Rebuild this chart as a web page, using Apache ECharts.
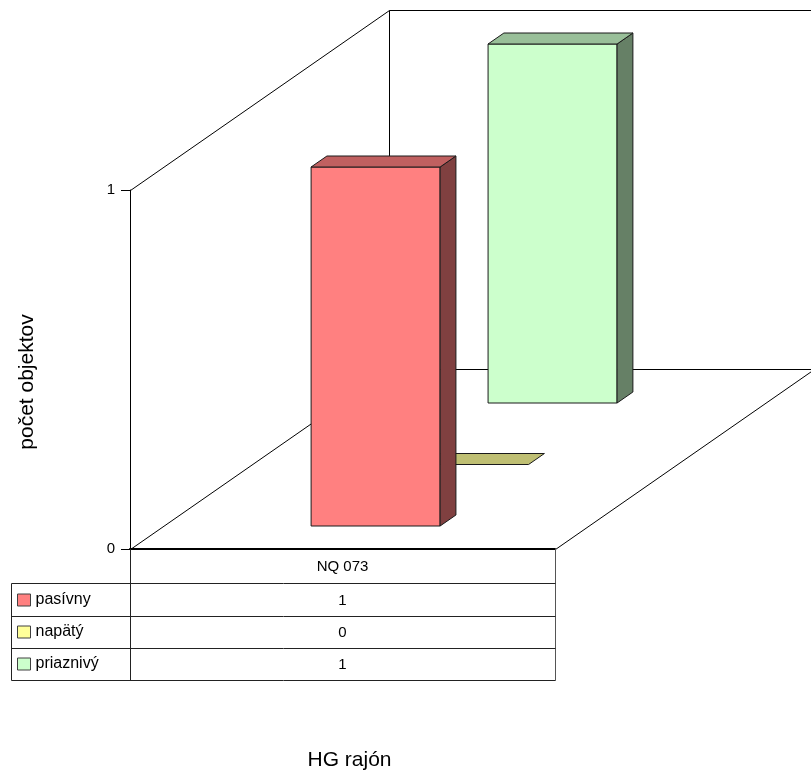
<!DOCTYPE html>
<html><head><meta charset="utf-8">
<script src="https://cdn.jsdelivr.net/npm/echarts/dist/echarts.min.js"></script>
<style>html,body{margin:0;padding:0;background:#fff}#c{width:811px;height:778px}</style>
</head><body><div id="c"></div>
<script>
// ---- data ----
const categories = ['NQ 073'];
const seriesNames = ['pasívny', 'napätý', 'priaznivý'];
const pasivny = [1];
const napaty = [0];
const priaznivy = [1];
const yTicks = [0, 1];
const yAxisTitle = 'počet objektov';
const xAxisTitle = 'HG rajón';

// ---- style / layout ----
const FONT = 'Arial, "Liberation Sans", sans-serif';
const DEPTH = { dx: 259, dy: -180, front: 23 / 180, step: 61.5 / 180, bar: 11 / 180, widthRatio: 129 / 425 };
const FACES = [
  { front: '#FF8080', top: '#C06060', side: '#804040' },
  { front: '#FFFF99', top: '#BFBF73', side: '#80804D' },
  { front: '#CCFFCC', top: '#99BF99', side: '#668066' }
];
const ROWS = [34, 33, 32, 32];
const TABLE_LEFT = 11.5;
const seriesValues = [pasivny, napaty, priaznivy];

function barRenderer(k) {
  return function (params, api) {
    const v = api.value(1);
    const base = api.coord([api.value(0), 0]);
    const top = api.coord([api.value(0), v]);
    const band = api.size([1, 0])[0];
    const w = band * DEPTH.widthRatio;
    const f0 = DEPTH.front + k * DEPTH.step, f1 = f0 + DEPTH.bar;
    const ox = DEPTH.dx * f0, oy = DEPTH.dy * f0, bx = DEPTH.dx * f1, by = DEPTH.dy * f1;
    const x0 = base[0] - w / 2, x1 = base[0] + w / 2;
    const yb = base[1], yt = top[1];
    const st = { stroke: '#1a1a1a', lineWidth: 1, lineJoin: 'miter' };
    const c = FACES[k];
    const children = [];
    if (yb - yt > 0.5) {
      children.push({ type: 'polygon', shape: { points: [[x0 + ox, yt + oy], [x1 + ox, yt + oy], [x1 + ox, yb + oy], [x0 + ox, yb + oy]] }, style: Object.assign({ fill: c.front }, st) });
      children.push({ type: 'polygon', shape: { points: [[x1 + ox, yt + oy], [x1 + bx, yt + by], [x1 + bx, yb + by], [x1 + ox, yb + oy]] }, style: Object.assign({ fill: c.side }, st) });
    }
    children.push({ type: 'polygon', shape: { points: [[x0 + ox, yt + oy], [x1 + ox, yt + oy], [x1 + bx, yt + by], [x0 + bx, yt + by]] }, style: Object.assign({ fill: c.top }, st) });
    return { type: 'group', children: children };
  };
}

function wallRenderer(params, api) {
  const cs = params.coordSys;
  const x = cs.x + 0.5, y = cs.y + 0.5, w = cs.width, h = cs.height;
  const dx = DEPTH.dx, dy = DEPTH.dy;
  const st = { stroke: '#000', lineWidth: 1 };
  const seg = (a, b, c, d) => ({ type: 'line', shape: { x1: a, y1: b, x2: c, y2: d }, style: st });
  return {
    type: 'group', children: [
      seg(x, y, x + dx, y + dy),
      seg(x, y + h, x + dx, y + h + dy),
      seg(x + dx, y + dy, x + dx, y + h + dy),
      seg(x + dx, y + dy, x + w + dx, y + dy),
      seg(x + dx, y + h + dy, x + w + dx, y + h + dy),
      seg(x + w, y + h, x + w + dx, y + h + dy)
    ]
  };
}

function tableRenderer(params, api) {
  const cs = params.coordSys;
  const i = api.value(0);
  const base = api.coord([i, 0]);
  const band = api.size([1, 0])[0];
  const xr = Math.round(base[0] + band / 2) + 0.5;
  const xl = Math.round(cs.x) + 0.5;
  const y0 = cs.y + cs.height;
  const ys = [y0];
  ROWS.forEach(r => ys.push(ys[ys.length - 1] + r));
  const st = { stroke: '#222', lineWidth: 1 };
  const ch = [];
  const last = ys[ys.length - 1] + 0.5;
  ch.push({ type: 'line', shape: { x1: xl, y1: y0, x2: xl, y2: last }, style: st });
  ch.push({ type: 'line', shape: { x1: xr, y1: y0, x2: xr, y2: last }, style: { stroke: '#555', lineWidth: 1 } });
  ch.push({ type: 'line', shape: { x1: TABLE_LEFT, y1: ys[1] + 0.5, x2: TABLE_LEFT, y2: last }, style: st });
  for (let r = 1; r < ys.length; r++) {
    ch.push({ type: 'line', shape: { x1: TABLE_LEFT, y1: ys[r] + 0.5, x2: xr, y2: ys[r] + 0.5 }, style: st });
  }
  for (let s = 0; s < seriesValues.length; s++) {
    ch.push({ type: 'text', x: base[0], y: (ys[s + 1] + ys[s + 2]) / 2 + 1, style: { text: String(seriesValues[s][i]), fontSize: 15, fontFamily: FONT, fill: '#000', align: 'center', verticalAlign: 'middle' } });
  }
  return { type: 'group', children: ch };
}

const chart = echarts.init(document.getElementById('c'), null, { renderer: 'canvas' });

const barSeries = seriesNames.map((name, k) => ({
  type: 'custom',
  name: name,
  coordinateSystem: 'cartesian2d',
  renderItem: barRenderer(k),
  data: categories.map((c, i) => [i, seriesValues[k][i]]),
  encode: { x: 0, y: 1 },
  itemStyle: { color: FACES[k].front },
  z: 10 - k,
  silent: true,
  clip: false
}));

chart.setOption({
  animation: false,
  backgroundColor: '#fff',
  textStyle: { fontFamily: FONT },
  grid: { left: 130, right: 256, top: 190, bottom: 229, containLabel: false },
  xAxis: {
    type: 'category', data: categories,
    axisLine: { show: true, lineStyle: { color: '#000', width: 2 } },
    axisTick: { show: false },
    axisLabel: { margin: 10, fontSize: 15, color: '#000', fontFamily: FONT },
    splitLine: { show: false },
    name: xAxisTitle, nameLocation: 'middle', nameGap: 201,
    nameTextStyle: { fontSize: 21, color: '#000', fontFamily: FONT, padding: [0, 0, 0, 14] }
  },
  yAxis: {
    type: 'value', min: yTicks[0], max: yTicks[yTicks.length - 1], interval: 1,
    axisLine: { show: true, lineStyle: { color: '#000' } },
    axisTick: { show: true, length: 9, lineStyle: { color: '#000' } },
    axisLabel: { margin: 15, fontSize: 15, color: '#000', fontFamily: FONT },
    splitLine: { show: false },
    name: yAxisTitle, nameLocation: 'middle', nameGap: 92, nameRotate: 90,
    nameTextStyle: { fontSize: 21, color: '#000', fontFamily: FONT, padding: [0, 25, 0, 0] }
  },
  legend: {
    orient: 'vertical', left: 17, top: 592, padding: 0,
    itemWidth: 13, itemHeight: 12, itemGap: 16,
    icon: 'rect',
    selectedMode: false,
    data: seriesNames,
    itemStyle: { borderColor: '#404040', borderWidth: 1 },
    textStyle: { fontSize: 16, lineHeight: 16, color: '#000', fontFamily: FONT }
  },
  series: [
    { type: 'custom', name: 'walls', coordinateSystem: 'cartesian2d', renderItem: wallRenderer, data: [[0, 0]], z: 1, silent: true, clip: false },
    { type: 'custom', name: 'table', coordinateSystem: 'cartesian2d', renderItem: tableRenderer, data: categories.map((c, i) => [i, 0]), encode: { x: 0, y: 1 }, z: 1, silent: true, clip: false }
  ].concat(barSeries)
});
</script></body></html>
